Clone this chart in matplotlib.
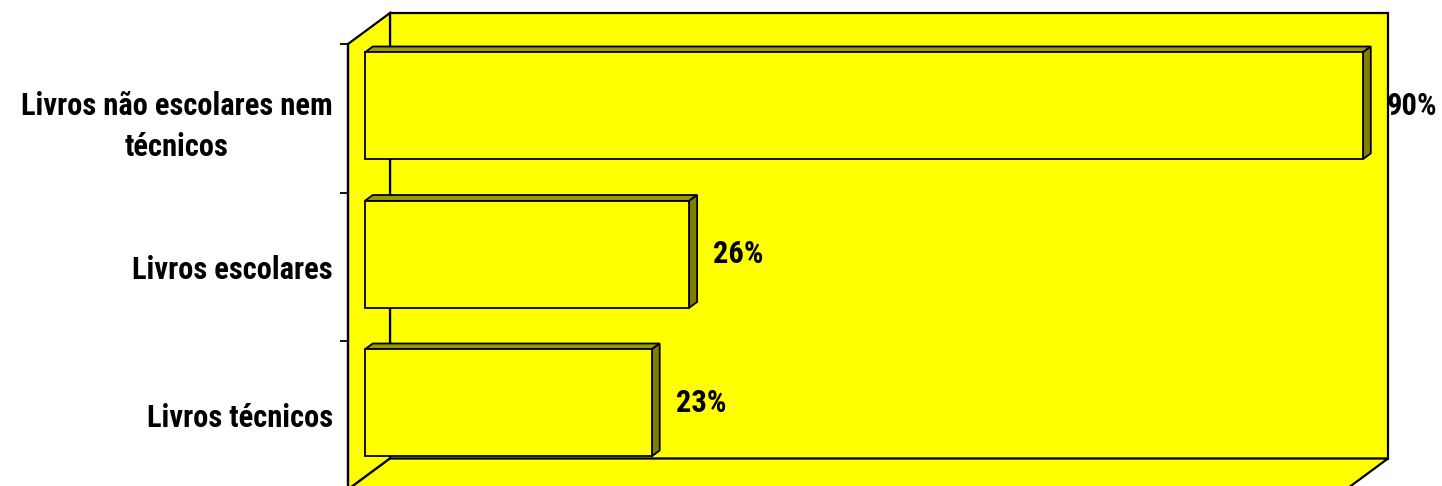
import numpy as np
import matplotlib
matplotlib.use('Agg')
import matplotlib.pyplot as plt
from matplotlib.patches import Polygon, Rectangle

# dados do gráfico (de baixo para cima)
categorias = ['Livros técnicos', 'Livros escolares', 'Livros não escolares nem\ntécnicos']
valores = [0.23, 0.26, 0.90]
rotulos = ['23%', '26%', '90%']
eixo_max = 0.80  # o eixo vai só até 80%, a barra de 90% fica cortada

amarelo = '#FFFF00'
topo_cor = '#999900'
lado_cor = '#808000'
fonte = ['Roboto Condensed', 'DejaVu Sans']

plt.rcParams['font.family'] = fonte

fig = plt.figure(figsize=(14.42, 4.86), dpi=100)
ax = fig.add_axes([348 / 1442, -3.5 / 486, 998 / 1442, 445.5 / 486])
ax.set_xlim(0, eixo_max)
ax.set_ylim(-0.5, len(categorias) - 0.5)
ax.patch.set_visible(False)

# profundidade do efeito 3D em unidades de dados
p = ax.transData.transform([(0, 0), (1, 1)])
ux, uy = p[1, 0] - p[0, 0], p[1, 1] - p[0, 1]
dx, dy = 42 / ux, 31 / uy

y0, y1 = -0.5, len(categorias) - 0.5
lw = 1.6

# parede do fundo, parede esquerda e chão
ax.add_patch(Rectangle((dx, y0 + dy), eixo_max, y1 - y0, fc=amarelo, ec='black',
                       lw=lw, clip_on=False, zorder=1))
ax.add_patch(Polygon([(0, y0), (0, y1), (dx, y1 + dy), (dx, y0 + dy)], closed=True,
                     fc=amarelo, ec='black', lw=lw, clip_on=False, zorder=2))
ax.add_patch(Polygon([(0, y0), (eixo_max, y0), (eixo_max + dx, y0 + dy), (dx, y0 + dy)],
                     closed=True, fc=amarelo, ec='black', lw=lw, clip_on=False, zorder=2))

# barras 3D
f0, f1 = 0.40, 0.59
h = 0.72
pos = np.arange(len(categorias))
larg = np.minimum(valores, eixo_max)
ax.barh(pos + f0 * dy, larg, height=h, left=f0 * dx, color=amarelo,
        edgecolor='black', linewidth=1.3, clip_on=False, zorder=5)
for yi, w in zip(pos, larg):
    top = yi + h / 2
    bot = yi - h / 2
    ax.add_patch(Polygon([(f0 * dx, top + f0 * dy), (w + f0 * dx, top + f0 * dy),
                          (w + f1 * dx, top + f1 * dy), (f1 * dx, top + f1 * dy)],
                         closed=True, fc=topo_cor, ec='black', lw=1.3, clip_on=False, zorder=4))
    ax.add_patch(Polygon([(w + f0 * dx, bot + f0 * dy), (w + f0 * dx, top + f0 * dy),
                          (w + f1 * dx, top + f1 * dy), (w + f1 * dx, bot + f1 * dy)],
                         closed=True, fc=lado_cor, ec='black', lw=1.3, clip_on=False, zorder=4))

# rótulos de valor
for yi, w, r in zip(pos, larg, rotulos):
    ax.text(w + f0 * dx + 24 / ux, yi + f0 * dy, r, ha='left', va='center',
            fontsize=22, fontweight='bold', clip_on=False, zorder=6)

# eixo de categorias
for s in ['top', 'right', 'bottom']:
    ax.spines[s].set_visible(False)
ax.spines['left'].set_linewidth(lw)
ax.spines['left'].set_zorder(3)
ax.set_xticks([])
ax.set_yticks(np.arange(y0, y1 + 0.01, 1.0))
ax.set_yticklabels([])
ax.tick_params(axis='y', which='major', length=6, width=1.3, direction='out')
ax.set_yticks(pos, minor=True)
ax.set_yticklabels(categorias, minor=True, fontsize=22, fontweight='bold',
                   multialignment='center', linespacing=1.45)
ax.tick_params(axis='y', which='minor', length=0, pad=11)

fig.savefig('out.png', dpi=100)
